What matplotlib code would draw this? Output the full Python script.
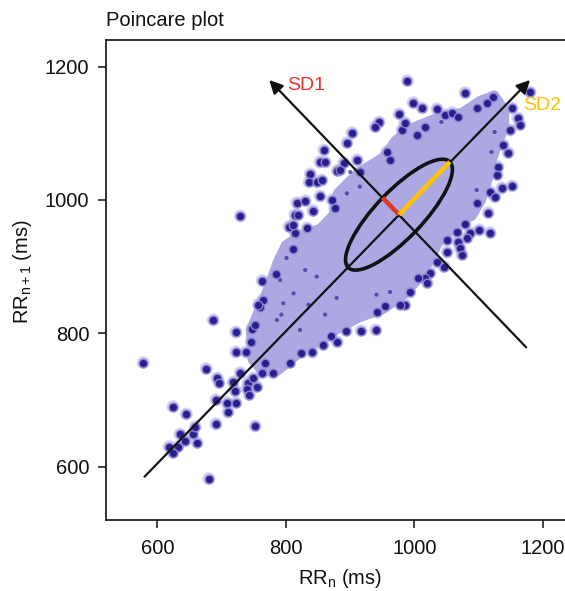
import matplotlib
matplotlib.use("Agg")
import matplotlib.pyplot as plt
from matplotlib.patches import Ellipse, Polygon

plt.rcParams['font.family'] = ['Liberation Sans', 'DejaVu Sans']
plt.rcParams['mathtext.fontset'] = 'custom'
plt.rcParams['mathtext.rm'] = 'Liberation Sans'
plt.rcParams['mathtext.it'] = 'Liberation Sans'

# ---- data (ms) ----
# dense core of the cloud (outline)
core_x = [747, 744, 755, 764, 775, 786, 799, 822, 853, 873, 880, 911, 951, 970, 993,
          1037, 1074, 1102, 1125, 1141, 1141, 1129, 1122, 1115, 1105, 1090, 1074, 1055,
          1037, 1027, 1006, 985, 951, 915, 884, 858, 827, 806, 786, 763]
core_y = [760, 805, 830, 850, 877, 907, 933, 948, 958, 978, 1011, 1041, 1065, 1090, 1108,
          1125, 1132, 1150, 1158, 1135, 1110, 1080, 1060, 1030, 1000, 975, 970, 952,
          934, 913, 880, 858, 835, 823, 808, 790, 775, 757, 742, 742]

# partly hidden beats inside the core
speck_x = [801, 830, 848, 812, 835, 793, 822, 861, 879, 941, 962, 895, 791, 796, 786,
           900, 915, 895, 1042, 1125, 1120, 1097]
speck_y = [913, 895, 885, 860, 843, 828, 805, 828, 853, 858, 862, 903, 880, 845, 820,
           1042, 1020, 1010, 1117, 1102, 1072, 1015]

# individual (resolved) beats
rr_n = [578, 680, 624, 645, 618, 632, 624, 635, 655, 643, 662, 659, 691, 752, 691, 708,
        722, 710, 676, 687, 693, 696, 718, 721, 722, 738, 729, 722, 741, 739, 749, 755,
        743,
        747, 746, 763, 780, 767, 763, 785, 764, 760, 806, 824, 841, 858, 880, 894, 870,
        757, 752,
        729, 817, 814, 805, 814, 811, 903, 895, 859, 853, 861, 838, 836, 848, 856, 853,
        830, 842, 819, 811, 833, 880, 911, 872, 876, 890, 915, 989, 976, 945, 939, 981,
        884, 962, 957, 998, 1012, 1035, 1079, 1122, 1180, 1048, 1059, 1068, 1017, 1004,
        985, 1097, 1113,
        1152, 1161, 1164, 1149, 1138, 1146, 1130, 1129, 1152, 1136, 1118, 1125, 1097,
        1115, 1079, 1101, 1118, 1087, 1066, 1082, 1051, 1068, 1051, 1071, 1074, 1035,
        1046, 1024, 1017, 1020, 1006, 993, 985, 954, 942, 940, 917, 978]
rr_n1 = [756, 582, 690, 679, 630, 630, 621, 649, 649, 639, 636, 660, 664, 661, 700, 696,
         696, 682, 747, 820, 733, 726, 727, 714, 772, 772, 741, 802, 726, 717, 733, 720,
         708,
         807, 787, 741, 741, 756, 879, 889, 850, 840, 756, 771, 772, 783, 787, 804, 796,
         843, 813,
         976, 996, 978, 960, 951, 927, 1101, 1086, 1075, 1057, 1057, 1039, 1027, 1027,
         1030, 1006, 999, 984, 978, 963, 958, 1044, 1060, 1000, 988, 1056, 1042, 1179,
         1129, 1117, 1110, 1105, 1045, 1060, 1072, 1146, 1138, 1137, 1161, 1155, 1162,
         1128, 1131, 1125, 1110, 1098, 1116, 1138, 1146,
         1138, 1123, 1113, 1105, 1083, 1071, 1050, 1038, 1021, 1018, 1012, 1005, 996,
         981, 964, 955, 951, 951, 952, 943, 940, 937, 922, 928, 918, 907, 900, 891, 883,
         876, 883, 862, 843, 841, 832, 805, 804, 843]

# Poincare descriptors
center = (976, 978)
sd1 = 36
sd2 = 112
identity_line = ([580, 1180], [585, 1180])
perp_line = ([1174, 774], [779, 1180])

ticks = [600, 800, 1000, 1200]

# ---- figure ----
W, H = 565, 591
fig = plt.figure(figsize=(W / 100, H / 100), dpi=100)
ax = fig.add_axes([106 / W, (H - 520) / H, 462.6 / W, 480 / H])
ax.set_xlim(520, 1240)
ax.set_ylim(520, 1240)

lav = '#aca8e2'
# soft halo round each beat
ax.scatter(rr_n, rr_n1, s=85, facecolor='#b6b2e8', edgecolor='none', alpha=0.6,
           zorder=0.8)
ax.add_patch(Polygon(list(zip(core_x, core_y)), closed=True, facecolor=lav,
                     edgecolor=lav, lw=6, joinstyle='round', zorder=1))
ax.scatter(speck_x, speck_y, s=9, facecolor='#3a2f98', edgecolor='none', alpha=0.75,
           zorder=1.2)
ax.scatter(rr_n, rr_n1, s=38, facecolor='#2a1f8e', edgecolor='#8a84d2',
           linewidths=1.0, zorder=2)

arrow_kw = dict(arrowstyle='-|>', lw=1.6, color='#111111', mutation_scale=20,
                shrinkA=0, shrinkB=0)
ax.annotate('', xy=(identity_line[0][1], identity_line[1][1]),
            xytext=(identity_line[0][0], identity_line[1][0]),
            arrowprops=arrow_kw, zorder=4)
ax.annotate('', xy=(perp_line[0][1], perp_line[1][1]),
            xytext=(perp_line[0][0], perp_line[1][0]),
            arrowprops=arrow_kw, zorder=4)

ax.add_patch(Ellipse(center, width=2 * sd2, height=2 * sd1, angle=45,
                     facecolor='none', edgecolor='#111111', lw=2.6, zorder=5))

r2 = 2 ** 0.5
ax.plot([center[0], center[0] - sd1 / r2], [center[1], center[1] + sd1 / r2],
        color='#e0352b', lw=3.2, solid_capstyle='butt', zorder=6)
ax.plot([center[0], center[0] + sd2 / r2], [center[1], center[1] + sd2 / r2],
        color='#ffc600', lw=3.2, solid_capstyle='butt', zorder=6)

ax.text(306 / W, 1 - 86 / H, 'SD1', color='#e0352b', fontsize=14,
        ha='center', va='center', transform=fig.transFigure)
ax.text(542 / W, 1 - 106 / H, 'SD2', color='#f7c200', fontsize=14,
        ha='center', va='center', transform=fig.transFigure)

ax.set_xticks(ticks)
ax.set_yticks(ticks)
ax.set_xticklabels([str(t) for t in ticks])
ax.set_yticklabels([str(t) for t in ticks])
ax.tick_params(direction='out', length=6, width=1.1, labelsize=14.5, colors='#111111')
ax.tick_params(axis='x', pad=8)
ax.tick_params(axis='y', pad=6)
for side in ['left', 'bottom', 'top']:
    ax.spines[side].set_linewidth(1.2)
    ax.spines[side].set_color('#111111')
ax.spines['right'].set_visible(False)

fig.text(106 / W, 1 - 26.5 / H, 'Poincare plot', fontsize=14.5, ha='left',
         va='baseline', color='#111111')
fig.text(340 / W, 1 - 578 / H, r'RR$_{\mathrm{n}}$ (ms)', fontsize=14.5,
         ha='center', va='center', color='#111111')
fig.text(22 / W, 1 - 272 / H, r'RR$_{\mathrm{n+1}}$ (ms)', fontsize=14.5,
         ha='center', va='center', rotation=90, color='#111111')

fig.savefig('out.png', dpi=100)
